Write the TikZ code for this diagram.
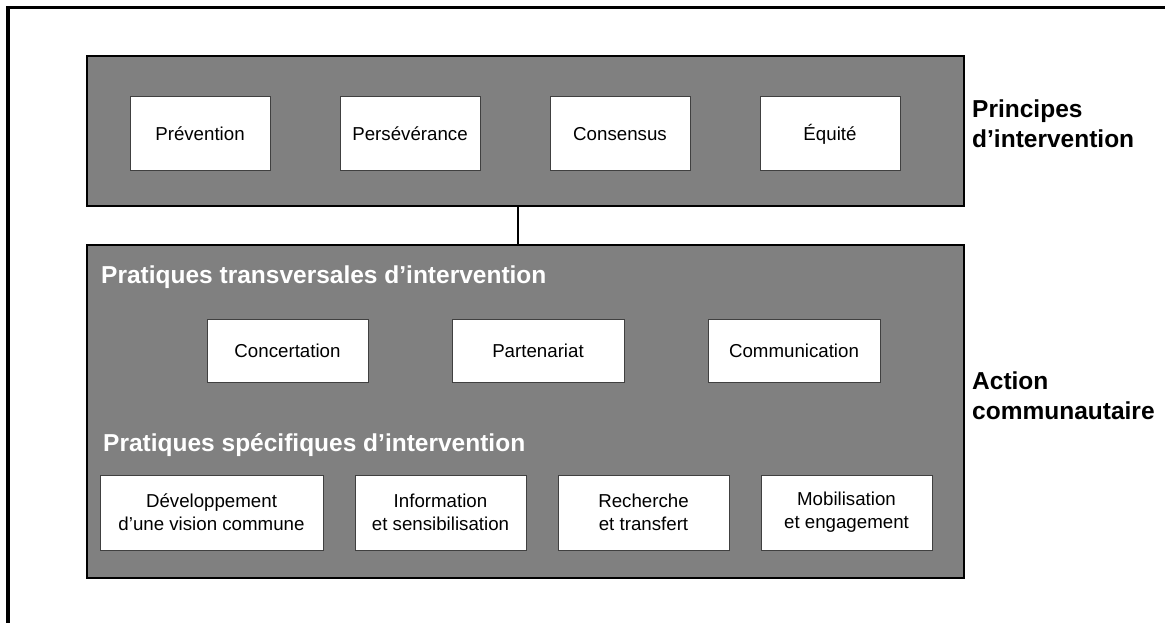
\documentclass[tikz,border=0pt]{standalone}
\usepackage{fontspec}
\setmainfont{Liberation Sans}
\usepackage{tikz}
\usetikzlibrary{positioning}
\definecolor{fondgris}{HTML}{808080}
\definecolor{bordcase}{HTML}{404040}
\tikzset{
  cadre/.style     ={draw=black,line width=2.4pt,fill=fondgris,inner sep=0pt},
  principe/.style  ={draw=bordcase,line width=1pt,fill=white,align=center,outer sep=0pt,
                     minimum width=140pt,minimum height=74pt,font=\fontsize{18.7}{23}\selectfont},
  pratique/.style  ={draw=bordcase,line width=1pt,fill=white,align=center,outer sep=0pt,
                     minimum width=172pt,minimum height=63pt,font=\fontsize{18.7}{23}\selectfont},
  specifique/.style={draw=bordcase,line width=1pt,fill=white,align=center,outer sep=0pt,
                     minimum width=171pt,minimum height=75pt,font=\fontsize{18.7}{23}\selectfont},
  titre/.style     ={text=white,font=\bfseries\fontsize{24.5}{30}\selectfont,anchor=base west,inner sep=0pt},
  niveau/.style    ={font=\bfseries\fontsize{24.5}{30}\selectfont,align=left,anchor=north west,inner sep=0pt},
  lien/.style      ={line width=2pt}
}

\begin{document}
\begin{tikzpicture}[x=1pt,y=-1pt]
  \useasboundingbox (0,0) rectangle (1165,623);
  \clip (0,0) rectangle (1165,623);
  % cadre exterieur
  \draw[line width=3.5pt] (8,7.5) rectangle (1200,660);

  \node[cadre,minimum width=877pt,minimum height=150pt] (principes) at (525.5,131) {};
  \node[cadre,minimum width=877pt,minimum height=333pt] (actions)   at (525.5,411.5) {};
  \coordinate (attache) at (518,0);
  \draw[lien] (principes.south -| attache) -- (actions.north -| attache);

  % principes
  \node[principe] (prevention) at (200,134) {Prévention};
  \node[principe,right=70pt of prevention]   (perseverance) {Persévérance};
  \node[principe,right=70pt of perseverance] (consensus)    {Consensus};
  \node[principe,right=70pt of consensus]    (equite)       {Équité};

  % pratiques transversales
  \node[titre] (transversales) at (101,283) {Pratiques transversales d’intervention};
  \node[pratique,minimum width=161pt] (concertation) at (287.5,350.5) {Concertation};
  \node[pratique,right=84pt of concertation] (partenariat)   {Partenariat};
  \node[pratique,right=84pt of partenariat]  (communication) {Communication};

  % pratiques specifiques
  \node[titre] (specifiques) at (103,451) {Pratiques spécifiques d’intervention};
  \node[specifique,minimum width=223pt] (vision) at (211.5,512.5) {Développement\\d’une vision commune};
  \node[specifique,right=32pt of vision]      (information)  {Information\\et sensibilisation};
  \node[specifique,right=32pt of information] (recherche)    {Recherche\\et transfert};
  \node[specifique,right=32pt of recherche]   (mobilisation) {Mobilisation\\et engagement};

  % niveaux
  \node[niveau] (niv-principes) at (972,100) {Principes\\d’intervention};
  \node[niveau] (niv-action)    at (972,372) {Action\\communautaire};
\end{tikzpicture}
\end{document}
